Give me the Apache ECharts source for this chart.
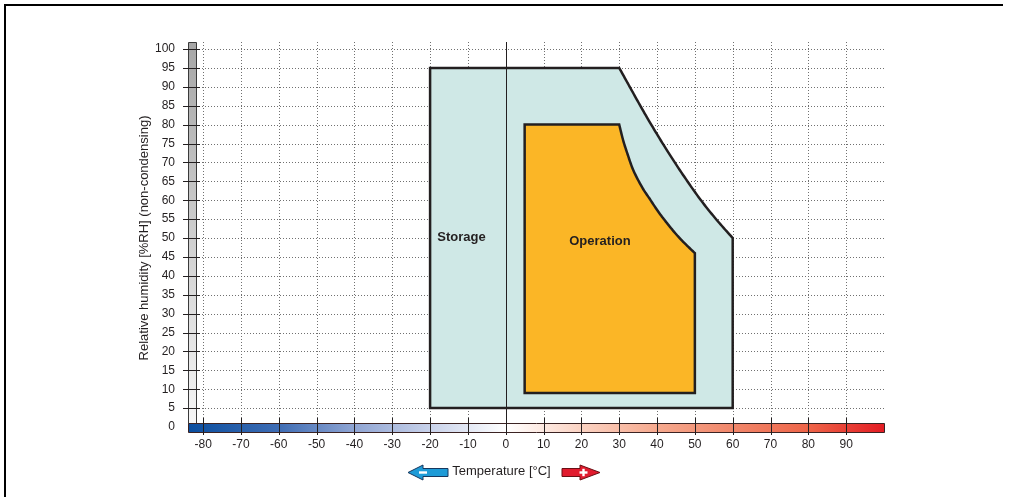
<!DOCTYPE html>
<html><head><meta charset="utf-8">
<script src="https://cdn.jsdelivr.net/npm/echarts@6/dist/echarts.min.js"></script>
<style>html,body{margin:0;padding:0;background:#fff}#c{width:1009px;height:497px}</style>
</head><body><div id="c"></div>
<script>
// ---- data ----
const xTicks = [-80,-70,-60,-50,-40,-30,-20,-10,0,10,20,30,40,50,60,70,80,90];
const yTicks = [0,5,10,15,20,25,30,35,40,45,50,55,60,65,70,75,80,85,90,95,100];
// Storage region: straight edges then the curved edge (temperature °C, RH %)
const storageEdges = [[60,5],[-20,5],[-20,95],[30,95]];
const storageCurve = [[30,95],[32,91.4],[34,87.8],[37,82.5],[41,75.8],[46,68],[51,60.8],[55.5,55.1],[60,50]];
// Operation region
const operationEdges = [[50,9],[5,9],[5,80],[30,80]];
const operationCurve = [[30,80],[31,76],[32,72.8],[33.7,68],[36,63.5],[38.1,60.3],[40.3,57],[42.5,54.1],[44.7,51.4],[46.9,49],[50,46]];
const regionNames = ['Storage','Operation'];
const storageLabelAt = [-11.7,50.2];
const operationLabelAt = [24.9,49];

const X_MIN=-84, X_MAX=100;
const FONT='Liberation Sans, Arial, sans-serif';
const INK='#231f20';

function sampleCurve(pts){
  const out=[];
  for(let i=0;i<pts.length-1;i++){
    const p0=pts[i-1]||pts[i], p1=pts[i], p2=pts[i+1], p3=pts[i+2]||pts[i+1];
    const c1=[p1[0]+(p2[0]-p0[0])/6, p1[1]+(p2[1]-p0[1])/6];
    const c2=[p2[0]-(p3[0]-p1[0])/6, p2[1]-(p3[1]-p1[1])/6];
    for(let k=0;k<=12;k++){
      const t=k/12, u=1-t;
      out.push([
        u*u*u*p1[0]+3*u*u*t*c1[0]+3*u*t*t*c2[0]+t*t*t*p2[0],
        u*u*u*p1[1]+3*u*u*t*c1[1]+3*u*t*t*c2[1]+t*t*t*p2[1]
      ]);
    }
  }
  return out;
}
function regionPoints(api, edges, curve){
  const e=edges.map(p=>api.coord(p));
  const c=sampleCurve(curve.map(p=>api.coord(p)));
  return e.concat(c);
}

function renderItem(params, api){
  const o=api.coord([0,0]);
  const top100=api.coord([0,100])[1];
  const left=api.coord([X_MIN,0])[0], right=api.coord([X_MAX,0])[0];
  const y0=o[1];
  const topY=top100-7;
  const barL=left, barR=left+8;
  const cbTop=y0-4, cbBot=y0+5;
  const ch=[];
  const dot={stroke:'#707070',lineWidth:1,lineDash:[1,2]};
  xTicks.forEach(v=>{
    if(v===0) return;
    const x=Math.round(api.coord([v,0])[0])+0.5;
    ch.push({type:'line',shape:{x1:x,y1:topY,x2:x,y2:cbTop},style:dot});
  });
  yTicks.forEach(v=>{
    if(v===0) return;
    const y=Math.round(api.coord([0,v])[1])+0.5;
    ch.push({type:'line',shape:{x1:barR,y1:y,x2:right,y2:y},style:dot});
  });
  ch.push({type:'polygon',shape:{points:regionPoints(api,storageEdges,storageCurve)},
    style:{fill:'#cfe8e6',stroke:INK,lineWidth:2.5,lineJoin:'miter'}});
  ch.push({type:'polygon',shape:{points:regionPoints(api,operationEdges,operationCurve)},
    style:{fill:'#fbb626',stroke:INK,lineWidth:2.5,lineJoin:'miter'}});
  const zx=Math.round(o[0])+0.5;
  ch.push({type:'line',shape:{x1:zx,y1:topY,x2:zx,y2:cbTop},style:{stroke:INK,lineWidth:1}});
  const sp=api.coord(storageLabelAt), op=api.coord(operationLabelAt);
  ch.push({type:'text',x:sp[0],y:sp[1],style:{text:regionNames[0],font:'bold 13px '+FONT,fill:INK,align:'center',verticalAlign:'middle'}});
  ch.push({type:'text',x:op[0],y:op[1],style:{text:regionNames[1],font:'bold 13px '+FONT,fill:INK,align:'center',verticalAlign:'middle'}});
  ch.push({type:'rect',shape:{x:barL+0.5,y:topY+0.5,width:barR-barL,height:cbTop-topY},
    style:{fill:new echarts.graphic.LinearGradient(0,0,0,1,[{offset:0,color:'#a6a6a6'},{offset:1,color:'#f6f6f6'}]),stroke:'#3a3a3a',lineWidth:1}});
  yTicks.forEach(v=>{
    if(v===0) return;
    const y=Math.round(api.coord([0,v])[1])+0.5;
    ch.push({type:'line',shape:{x1:barL-5,y1:y,x2:barR+4,y2:y},style:{stroke:INK,lineWidth:1}});
  });
  const zpos=(0-X_MIN)/(X_MAX-X_MIN);
  const pos=v=>(v-X_MIN)/(X_MAX-X_MIN);
  ch.push({type:'rect',shape:{x:left+0.5,y:cbTop+0.5,width:right-left,height:cbBot-cbTop},
    style:{fill:new echarts.graphic.LinearGradient(0,0,1,0,[
      {offset:0,color:'#0a4e9f'},{offset:pos(-60),color:'#3f6db4'},{offset:pos(-40),color:'#90a5d3'},
      {offset:pos(-20),color:'#c9d2ea'},{offset:zpos,color:'#ffffff'},{offset:pos(20),color:'#fbd2c2'},
      {offset:pos(40),color:'#f6a98e'},{offset:pos(60),color:'#f1866a'},{offset:pos(80),color:'#ee6448'},
      {offset:1,color:'#e31b23'}]),stroke:'#3b2323',lineWidth:1}});
  xTicks.forEach(v=>{
    const x=Math.round(api.coord([v,0])[0])+0.5;
    ch.push({type:'line',shape:{x1:x,y1:cbTop-5,x2:x,y2:cbBot+3},style:{stroke:INK,lineWidth:1}});
  });
  return {type:'group',children:ch};
}

const chart=echarts.init(document.getElementById('c'),null,{renderer:'canvas'});
chart.setOption({
  animation:false,
  backgroundColor:'#ffffff',
  grid:{left:188,right:125,top:49,bottom:70,containLabel:false,outerBoundsMode:'none'},
  xAxis:{type:'value',min:X_MIN,max:X_MAX,
    axisLine:{show:false},axisTick:{show:false},splitLine:{show:false},
    axisLabel:{customValues:xTicks,fontSize:12,color:INK,margin:12,fontFamily:FONT},
    name:'Temperature [°C]',nameLocation:'middle',nameGap:38,nameMoveOverlap:false,
    nameTextStyle:{fontSize:13,color:INK,fontFamily:FONT,padding:[0,69,0,0]}},
  yAxis:{type:'value',min:0,max:100,interval:5,
    axisLine:{show:false},axisTick:{show:false},splitLine:{show:false},
    axisLabel:{customValues:yTicks,fontSize:12,color:INK,margin:13,fontFamily:FONT},
    name:'Relative humidity [%RH] (non-condensing)',nameLocation:'middle',nameGap:37,nameMoveOverlap:false,
    nameTextStyle:{fontSize:13,color:INK,fontFamily:FONT}},
  series:[{type:'custom',data:[0],renderItem:renderItem,silent:true,clip:false}],
  graphic:[
    {type:'polyline',shape:{points:[[5,497],[5,5],[1003,5]]},style:{fill:'none',stroke:'#000',lineWidth:2},silent:true},
    {type:'polygon',shape:{points:[[408,472.5],[423,465],[423,468.5],[448,468.5],[448,476.5],[423,476.5],[423,480]]},
      style:{fill:'#1e9bd7',stroke:'#17375e',lineWidth:1}},
    {type:'rect',shape:{x:419,y:471.3,width:8,height:2.4},style:{fill:'#fff'}},
    {type:'polygon',shape:{points:[[562,468.5],[580,468.5],[580,465],[600,472.5],[580,480],[580,476.5],[562,476.5]]},
      style:{fill:'#e11b2e',stroke:'#6a0f14',lineWidth:1}},
    {type:'rect',shape:{x:579.5,y:471.3,width:8,height:2.4},style:{fill:'#fff'}},
    {type:'rect',shape:{x:582.3,y:468.8,width:2.4,height:7.4},style:{fill:'#fff'}}
  ]
});
</script></body></html>
